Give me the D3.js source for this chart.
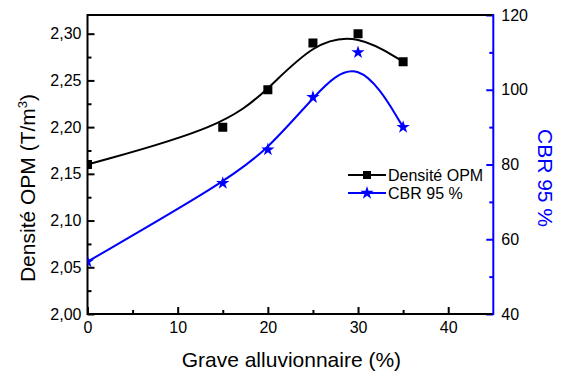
<!DOCTYPE html>
<html><head><meta charset="utf-8">
<script src="https://cdn.jsdelivr.net/npm/d3@7"></script>
<style>body{margin:0;background:#fff}svg{display:block;font-family:"Liberation Sans",Arial,sans-serif}</style>
</head><body><svg id="c" width="563" height="374"></svg>
<script>
const gravel = [0, 15, 20, 25, 30, 35];
const densite = [2.16, 2.20, 2.24, 2.29, 2.30, 2.27];
const cbr = [54, 75, 84, 98, 110, 90];
const xTicks = [0, 10, 20, 30, 40];
const yLeftTicks = [2.00, 2.05, 2.10, 2.15, 2.20, 2.25, 2.30];
const yRightTicks = [40, 60, 80, 100, 120];
const seriesNames = ["Densité OPM", "CBR 95 %"];

const svg = d3.select("#c");
const L = 87.5, R = 493.3, T = 15, B = 314;
const x = d3.scaleLinear().domain([0, 45]).range([L, R]);
const yL = d3.scaleLinear().domain([2.00, 2.32]).range([B, T]);
const yR = d3.scaleLinear().domain([40, 120]).range([B, T]);
const blue = "#0000ff";
const fmt = v => d3.format(".2f")(v).replace(".", ",");

// axes
const gx = svg.append("g").attr("transform", `translate(0,${B})`)
  .call(d3.axisBottom(x).tickValues(xTicks).tickSizeInner(-7).tickSizeOuter(0).tickPadding(8));
const gxm = svg.append("g").attr("transform", `translate(0,${B})`)
  .call(d3.axisBottom(x).tickValues([5,15,25,35]).tickSizeInner(-4).tickSizeOuter(0).tickFormat(""));
const gl = svg.append("g").attr("transform", `translate(${L},0)`)
  .call(d3.axisLeft(yL).tickValues(yLeftTicks).tickFormat(fmt).tickSizeInner(-7).tickSizeOuter(0).tickPadding(6));
const glm = svg.append("g").attr("transform", `translate(${L},0)`)
  .call(d3.axisLeft(yL).tickValues([2.025,2.075,2.125,2.175,2.225,2.275]).tickSizeInner(-4).tickSizeOuter(0).tickFormat(""));
const gr = svg.append("g").attr("transform", `translate(${R},0)`)
  .call(d3.axisRight(yR).tickValues(yRightTicks).tickSizeInner(-7).tickSizeOuter(0).tickPadding(8));
const grm = svg.append("g").attr("transform", `translate(${R},0)`)
  .call(d3.axisRight(yR).tickValues([50,70,90,110]).tickSizeInner(-4).tickSizeOuter(0).tickFormat(""));

[gx, gxm, gl, glm].forEach(g => { g.selectAll("path").remove(); g.selectAll("line").attr("stroke","#000").attr("stroke-width",2); });
[gr, grm].forEach(g => { g.selectAll("path").remove(); g.selectAll("line").attr("stroke",blue).attr("stroke-width",2); });
[gx, gl, gr].forEach(g => g.selectAll("text").attr("font-size", 16).attr("fill", "#000").attr("font-family","Liberation Sans, Arial, sans-serif"));

// frame lines
svg.append("line").attr("x1",L).attr("x2",R).attr("y1",T).attr("y2",T).attr("stroke","#000").attr("stroke-width",2);
svg.append("line").attr("x1",L).attr("x2",R).attr("y1",B).attr("y2",B).attr("stroke","#000").attr("stroke-width",2);
svg.append("line").attr("x1",L).attr("x2",L).attr("y1",T-1).attr("y2",B+1).attr("stroke","#000").attr("stroke-width",2);
svg.append("line").attr("x1",R).attr("x2",R).attr("y1",T-1).attr("y2",B+1).attr("stroke",blue).attr("stroke-width",2);

// clip
svg.append("clipPath").attr("id","clip").append("rect").attr("x",L).attr("y",T).attr("width",R-L).attr("height",B-T);

const dD = gravel.map((g,i)=>[g,densite[i]]);
const dC = gravel.map((g,i)=>[g,cbr[i]]);
svg.append("path").attr("d", d3.line().x(d=>x(d[0])).y(d=>yL(d[1])).curve(d3.curveBasis)(dD))
  .attr("fill","none").attr("stroke","#000").attr("stroke-width",2);
svg.append("path").attr("d", d3.line().x(d=>x(d[0])).y(d=>yR(d[1])).curve(d3.curveBasis)(dC))
  .attr("fill","none").attr("stroke",blue).attr("stroke-width",2);

const sq = d3.symbol().type(d3.symbolSquare).size(81);
const st = d3.symbol().type(d3.symbolStar).size(55);
svg.append("g").attr("clip-path","url(#clip)").selectAll("path").data(dD).join("path")
  .attr("d", sq).attr("transform", d=>`translate(${x(d[0])},${yL(d[1])})`).attr("fill","#000");
svg.append("g").attr("clip-path","url(#clip)").selectAll("path").data(dC).join("path")
  .attr("d", st).attr("transform", d=>`translate(${x(d[0])},${yR(d[1])})`).attr("fill",blue);

// legend
const leg = [{y:175, c:"#000"}, {y:193, c:blue}];
leg.forEach((l,i) => {
  svg.append("line").attr("x1",348).attr("x2",386).attr("y1",l.y).attr("y2",l.y).attr("stroke",l.c).attr("stroke-width",2);
  svg.append("path").attr("d", i===0 ? d3.symbol().type(d3.symbolSquare).size(64)() : st()).attr("transform",`translate(367,${l.y})`).attr("fill",l.c);
  svg.append("text").attr("x",388).attr("y",l.y+5.5).attr("font-size",16).text(seriesNames[i]);
});

// axis titles
svg.append("text").attr("x",(L+R)/2 + 1).attr("y",367).attr("text-anchor","middle").attr("font-size",21).text("Grave alluvionnaire (%)");
const lt = svg.append("text").attr("transform","translate(35,188) rotate(-90)").attr("text-anchor","middle").attr("font-size",21);
lt.append("tspan").text("Densité OPM (T/m");
lt.append("tspan").attr("font-size",13).attr("dy",-8).text("3");
lt.append("tspan").attr("dy",8).text(")");
svg.append("text").attr("transform","translate(538,178) rotate(90)").attr("text-anchor","middle").attr("font-size",21).attr("fill",blue).text("CBR 95 %");
</script></body></html>
